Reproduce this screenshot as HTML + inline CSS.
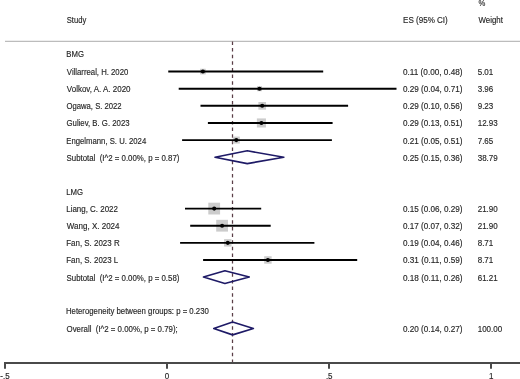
<!DOCTYPE html>
<html><head><meta charset="utf-8"><style>
html,body{margin:0;padding:0;background:#fff;}
body{width:520px;height:379px;overflow:hidden;}
svg{display:block;will-change:transform;}
text{font-family:"Liberation Sans",sans-serif;font-size:8.3px;fill:#262626;stroke:#262626;stroke-width:0.15px;}
</style></head><body>
<svg width="520" height="379" viewBox="0 0 520 379">
<text x="478.43" y="6.00" textLength="6.85" lengthAdjust="spacingAndGlyphs" xml:space="preserve">%</text>
<text x="66.75" y="23.00" textLength="19.46" lengthAdjust="spacingAndGlyphs" xml:space="preserve">Study</text>
<text x="403.04" y="23.00" textLength="44.76" lengthAdjust="spacingAndGlyphs" xml:space="preserve">ES (95% CI)</text>
<text x="478.57" y="23.00" textLength="24.39" lengthAdjust="spacingAndGlyphs" xml:space="preserve">Weight</text>
<line x1="5" y1="41.4" x2="520" y2="41.4" stroke="#bcbcbc" stroke-width="1.3"/>
<text x="66.26" y="57.00" textLength="17.67" lengthAdjust="spacingAndGlyphs" xml:space="preserve">BMG</text>
<text x="66.26" y="194.89" textLength="16.82" lengthAdjust="spacingAndGlyphs" xml:space="preserve">LMG</text>
<text x="65.96" y="314.20" textLength="142.84" lengthAdjust="spacingAndGlyphs" xml:space="preserve">Heterogeneity between groups: p = 0.230</text>
<line x1="232.5" y1="41.5" x2="232.5" y2="363" stroke="#5a3e46" stroke-width="1.25" stroke-dasharray="3.5 3.123"/>
<text x="66.87" y="75.00" textLength="61.44" lengthAdjust="spacingAndGlyphs" xml:space="preserve">Villarreal, H. 2020</text>
<text x="402.98" y="75.00" textLength="59.59" lengthAdjust="spacingAndGlyphs" xml:space="preserve">0.11 (0.00, 0.48)</text>
<text x="477.69" y="75.00" textLength="15.57" lengthAdjust="spacingAndGlyphs" xml:space="preserve">5.01</text>
<rect x="200.08" y="68.75" width="5.64" height="5.64" fill="#cccccc"/>
<line x1="168.25" y1="71.57" x2="323.20" y2="71.57" stroke="#000" stroke-width="1.9"/>
<circle cx="202.90" cy="71.57" r="2.05" fill="#000"/>
<text x="66.87" y="92.13" textLength="63.69" lengthAdjust="spacingAndGlyphs" xml:space="preserve">Volkov, A. A. 2020</text>
<text x="402.98" y="92.13" textLength="59.59" lengthAdjust="spacingAndGlyphs" xml:space="preserve">0.29 (0.04, 0.71)</text>
<text x="477.69" y="92.13" textLength="15.57" lengthAdjust="spacingAndGlyphs" xml:space="preserve">3.96</text>
<rect x="256.99" y="86.19" width="5.01" height="5.01" fill="#cccccc"/>
<line x1="178.70" y1="88.70" x2="396.50" y2="88.70" stroke="#000" stroke-width="1.9"/>
<circle cx="259.50" cy="88.70" r="2.05" fill="#000"/>
<text x="66.54" y="109.25" textLength="55.10" lengthAdjust="spacingAndGlyphs" xml:space="preserve">Ogawa, S. 2022</text>
<text x="402.98" y="109.25" textLength="59.59" lengthAdjust="spacingAndGlyphs" xml:space="preserve">0.29 (0.10, 0.56)</text>
<text x="477.69" y="109.25" textLength="15.57" lengthAdjust="spacingAndGlyphs" xml:space="preserve">9.23</text>
<rect x="258.37" y="102.00" width="7.66" height="7.66" fill="#cccccc"/>
<line x1="200.50" y1="105.82" x2="348.10" y2="105.82" stroke="#000" stroke-width="1.9"/>
<circle cx="262.20" cy="105.82" r="2.05" fill="#000"/>
<text x="66.51" y="126.38" textLength="63.08" lengthAdjust="spacingAndGlyphs" xml:space="preserve">Guliev, B. G. 2023</text>
<text x="402.98" y="126.38" textLength="59.59" lengthAdjust="spacingAndGlyphs" xml:space="preserve">0.29 (0.13, 0.51)</text>
<text x="477.69" y="126.38" textLength="20.02" lengthAdjust="spacingAndGlyphs" xml:space="preserve">12.93</text>
<rect x="256.87" y="118.42" width="9.06" height="9.06" fill="#cccccc"/>
<line x1="207.90" y1="122.95" x2="332.60" y2="122.95" stroke="#000" stroke-width="1.9"/>
<circle cx="261.40" cy="122.95" r="2.05" fill="#000"/>
<text x="66.27" y="143.51" textLength="79.96" lengthAdjust="spacingAndGlyphs" xml:space="preserve">Engelmann, S. U. 2024</text>
<text x="402.98" y="143.51" textLength="59.59" lengthAdjust="spacingAndGlyphs" xml:space="preserve">0.21 (0.05, 0.51)</text>
<text x="477.69" y="143.51" textLength="15.57" lengthAdjust="spacingAndGlyphs" xml:space="preserve">7.65</text>
<rect x="232.82" y="136.59" width="6.97" height="6.97" fill="#cccccc"/>
<line x1="182.10" y1="140.08" x2="331.90" y2="140.08" stroke="#000" stroke-width="1.9"/>
<circle cx="236.30" cy="140.08" r="2.05" fill="#000"/>
<text x="66.54" y="160.63" textLength="112.84" lengthAdjust="spacingAndGlyphs" xml:space="preserve">Subtotal  (I^2 = 0.00%, p = 0.87)</text>
<text x="402.98" y="160.63" textLength="59.59" lengthAdjust="spacingAndGlyphs" xml:space="preserve">0.25 (0.15, 0.36)</text>
<text x="477.69" y="160.63" textLength="20.02" lengthAdjust="spacingAndGlyphs" xml:space="preserve">38.79</text>
<path d="M215.00 157.20L247.30 150.80L283.85 157.20L247.30 163.60Z" fill="none" stroke="#1e1a66" stroke-width="1.6" stroke-linejoin="round"/>
<text x="66.25" y="212.02" textLength="51.65" lengthAdjust="spacingAndGlyphs" xml:space="preserve">Liang, C. 2022</text>
<text x="402.98" y="212.02" textLength="59.59" lengthAdjust="spacingAndGlyphs" xml:space="preserve">0.15 (0.06, 0.29)</text>
<text x="477.69" y="212.02" textLength="20.02" lengthAdjust="spacingAndGlyphs" xml:space="preserve">21.90</text>
<rect x="208.30" y="202.69" width="11.79" height="11.79" fill="#cccccc"/>
<line x1="185.00" y1="208.59" x2="261.20" y2="208.59" stroke="#000" stroke-width="1.9"/>
<circle cx="214.20" cy="208.59" r="2.05" fill="#000"/>
<text x="66.87" y="229.14" textLength="52.62" lengthAdjust="spacingAndGlyphs" xml:space="preserve">Wang, X. 2024</text>
<text x="402.98" y="229.14" textLength="59.59" lengthAdjust="spacingAndGlyphs" xml:space="preserve">0.17 (0.07, 0.32)</text>
<text x="477.69" y="229.14" textLength="20.02" lengthAdjust="spacingAndGlyphs" xml:space="preserve">21.90</text>
<rect x="216.20" y="219.82" width="11.79" height="11.79" fill="#cccccc"/>
<line x1="190.20" y1="225.71" x2="270.70" y2="225.71" stroke="#000" stroke-width="1.9"/>
<circle cx="222.10" cy="225.71" r="2.05" fill="#000"/>
<text x="66.25" y="246.27" textLength="53.37" lengthAdjust="spacingAndGlyphs" xml:space="preserve">Fan, S. 2023 R</text>
<text x="402.98" y="246.27" textLength="59.59" lengthAdjust="spacingAndGlyphs" xml:space="preserve">0.19 (0.04, 0.46)</text>
<text x="477.69" y="246.27" textLength="15.57" lengthAdjust="spacingAndGlyphs" xml:space="preserve">8.71</text>
<rect x="224.08" y="239.12" width="7.44" height="7.44" fill="#cccccc"/>
<line x1="180.10" y1="242.84" x2="314.40" y2="242.84" stroke="#000" stroke-width="1.9"/>
<circle cx="227.80" cy="242.84" r="2.05" fill="#000"/>
<text x="66.25" y="263.40" textLength="52.01" lengthAdjust="spacingAndGlyphs" xml:space="preserve">Fan, S. 2023 L</text>
<text x="402.98" y="263.40" textLength="59.59" lengthAdjust="spacingAndGlyphs" xml:space="preserve">0.31 (0.11, 0.59)</text>
<text x="477.69" y="263.40" textLength="15.57" lengthAdjust="spacingAndGlyphs" xml:space="preserve">8.71</text>
<rect x="264.18" y="256.25" width="7.44" height="7.44" fill="#cccccc"/>
<line x1="203.10" y1="259.97" x2="357.20" y2="259.97" stroke="#000" stroke-width="1.9"/>
<circle cx="267.90" cy="259.97" r="2.05" fill="#000"/>
<text x="66.54" y="280.52" textLength="112.84" lengthAdjust="spacingAndGlyphs" xml:space="preserve">Subtotal  (I^2 = 0.00%, p = 0.58)</text>
<text x="402.98" y="280.52" textLength="59.59" lengthAdjust="spacingAndGlyphs" xml:space="preserve">0.18 (0.11, 0.26)</text>
<text x="477.69" y="280.52" textLength="20.02" lengthAdjust="spacingAndGlyphs" xml:space="preserve">61.21</text>
<path d="M203.45 277.09L224.90 270.69L249.30 277.09L224.90 283.49Z" fill="none" stroke="#1e1a66" stroke-width="1.6" stroke-linejoin="round"/>
<text x="66.53" y="331.90" textLength="111.18" lengthAdjust="spacingAndGlyphs" xml:space="preserve">Overall  (I^2 = 0.00%, p = 0.79);</text>
<text x="402.98" y="331.90" textLength="59.59" lengthAdjust="spacingAndGlyphs" xml:space="preserve">0.20 (0.14, 0.27)</text>
<text x="477.69" y="331.90" textLength="24.47" lengthAdjust="spacingAndGlyphs" xml:space="preserve">100.00</text>
<path d="M213.75 328.47L232.60 322.07L253.40 328.47L232.60 334.87Z" fill="none" stroke="#1e1a66" stroke-width="1.6" stroke-linejoin="round"/>
<line x1="4" y1="362.9" x2="520" y2="362.9" stroke="#4a4a4a" stroke-width="2"/>
<line x1="5.00" y1="362" x2="5.00" y2="368.7" stroke="#4a4a4a" stroke-width="2"/>
<text x="0.37" y="378.80" textLength="9.34" lengthAdjust="spacingAndGlyphs" xml:space="preserve">-.5</text>
<line x1="167.00" y1="362" x2="167.00" y2="368.7" stroke="#4a4a4a" stroke-width="2"/>
<text x="164.78" y="378.80" textLength="4.45" lengthAdjust="spacingAndGlyphs" xml:space="preserve">0</text>
<line x1="329.00" y1="362" x2="329.00" y2="368.7" stroke="#4a4a4a" stroke-width="2"/>
<text x="325.88" y="378.80" textLength="6.67" lengthAdjust="spacingAndGlyphs" xml:space="preserve">.5</text>
<line x1="491.00" y1="362" x2="491.00" y2="368.7" stroke="#4a4a4a" stroke-width="2"/>
<text x="488.96" y="378.80" textLength="4.45" lengthAdjust="spacingAndGlyphs" xml:space="preserve">1</text>
</svg>
</body></html>
